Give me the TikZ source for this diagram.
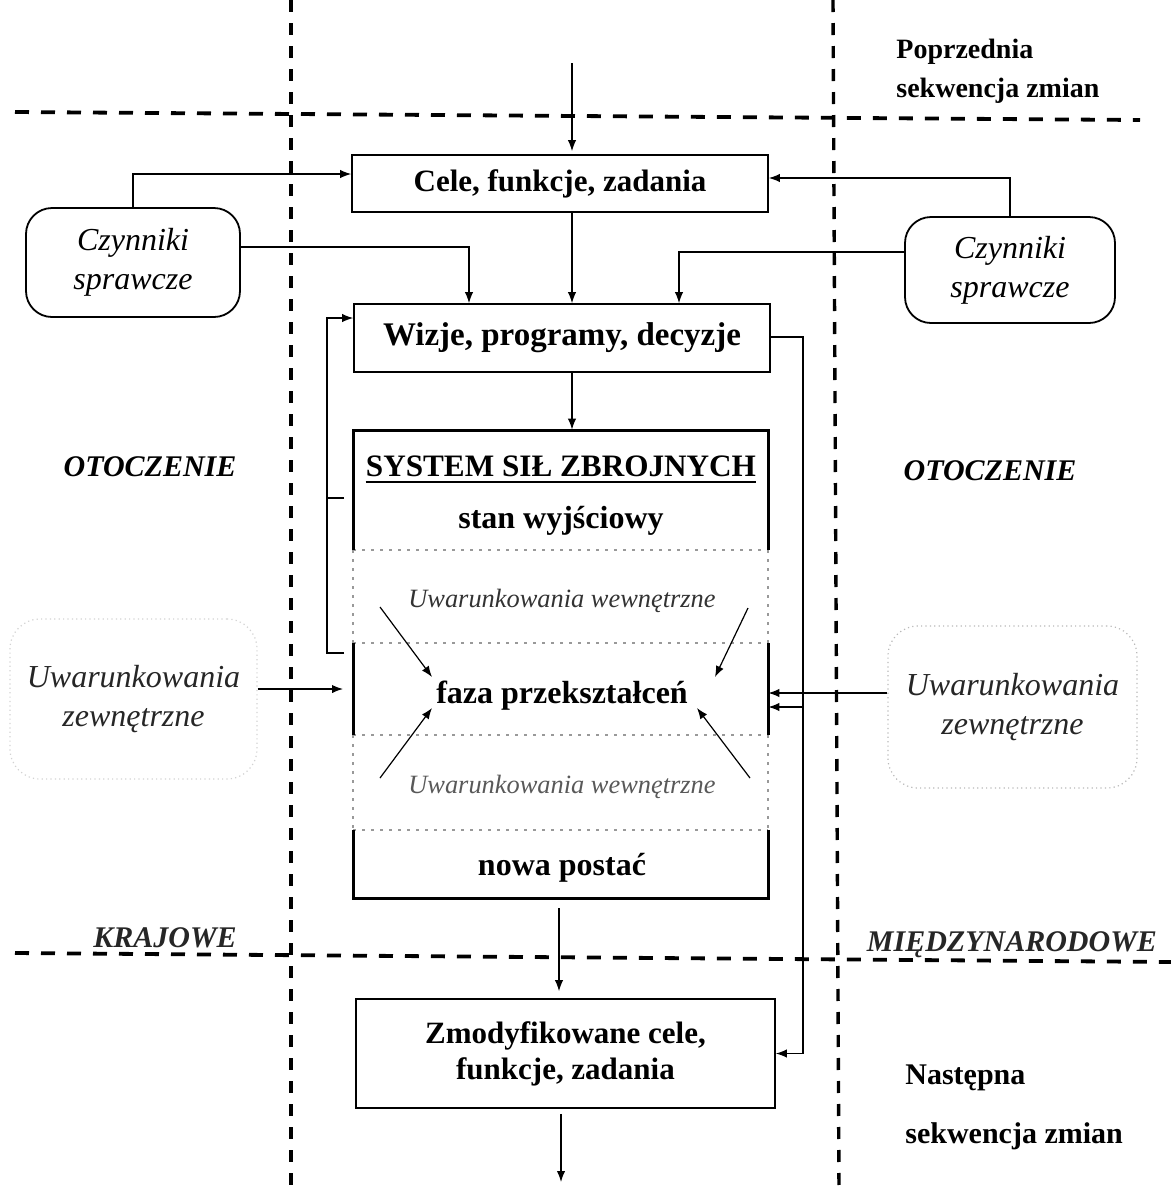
\documentclass[tikz,border=0pt]{standalone}
\usepackage{fontspec}
\setmainfont{Liberation Serif}
\usetikzlibrary{arrows.meta,calc}

\begin{document}
\begin{tikzpicture}[x=0.5pt,y=-0.5pt,
  arr/.style={-{Latex[length=5.5pt,width=4.2pt]}, line width=0.6pt},
  conn/.style={line width=0.6pt},
  vdash/.style={line width=1.7pt, dash pattern=on 6pt off 5.5pt},
  hdash/.style={line width=1.9pt, dash pattern=on 7pt off 6pt},
  box/.style={draw, line width=0.85pt, rectangle, align=center, inner sep=0pt,
    font=\fontsize{15.5}{18}\selectfont\bfseries},
  czbox/.style={draw, line width=0.9pt, rounded corners=13pt, align=center, inner sep=0pt,
    font=\fontsize{16}{19.5}\selectfont\itshape},
  uwbox/.style={draw=gray!55, line width=0.6pt, dash pattern=on 0.6pt off 1.6pt,
    rounded corners=15pt, align=center, inner sep=0pt,
    font=\fontsize{16}{19.5}\selectfont\itshape, text=black!85},
  sysline/.style={line width=1.5pt},
  inner/.style={draw=gray!80, line width=0.55pt, dash pattern=on 1.5pt off 3pt},
  btxt/.style={inner sep=0pt, anchor=base, font=\fontsize{16}{18}\selectfont\bfseries},
  wtxt/.style={inner sep=0pt, anchor=base, font=\fontsize{13.2}{16}\selectfont\itshape},
  side/.style={inner sep=0pt, anchor=base west, font=\fontsize{14}{17}\selectfont\bfseries},
  env/.style={inner sep=0pt, anchor=base, font=\fontsize{15}{18}\selectfont\bfseries\itshape},
  region/.style={inner sep=0pt, anchor=base, font=\fontsize{15}{18}\selectfont\bfseries\itshape, text=black!85}
]
\useasboundingbox (0,0) rectangle (1171,1190);

% dividing lines of the scheme
\draw[vdash] (291,0) -- (291,1190);
\draw[vdash] (833,0) -- (839,1190);
\draw[hdash] (15,112) -- (1140,120);
\draw[hdash] (15,953) -- (1171,962);

% corner captions
\node[side] (popA) at (896,58) {Poprzednia};
\node[side] (popB) at (896,97) {sekwencja zmian};
\node[side, font=\fontsize{15}{18}\selectfont\bfseries] (nasA) at (905,1084) {Następna};
\node[side, font=\fontsize{15}{18}\selectfont\bfseries] (nasB) at (905,1143) {sekwencja zmian};

% environment labels
\node[env] (otL) at (150,476) {OTOCZENIE};
\node[env] (otR) at (990,480) {OTOCZENIE};
\node[region] (kraj) at (165,947) {KRAJOWE};
\node[region] (mied) at (1012,951) {MIĘDZYNARODOWE};

% main blocks
\node[box, minimum width=208pt, minimum height=28.5pt] (cele) at (560,183.5) {Cele, funkcje, zadania};
\node[box, minimum width=208pt, minimum height=34pt, font=\fontsize{16.5}{19}\selectfont\bfseries] (wizje) at (562,338) {Wizje, programy, decyzje};
\node[box, minimum width=209.5pt, minimum height=54.5pt] (zmod) at (565.5,1053.5) {\rule{0pt}{8pt}Zmodyfikowane cele,\\ funkcje, zadania};

\node[czbox, minimum width=107pt, minimum height=54.5pt] (czL) at (133,262.5) {\rule{0pt}{9pt}Czynniki\\ sprawcze};
\node[czbox, minimum width=105pt, minimum height=53pt] (czR) at (1010,270) {\rule{0pt}{9pt}Czynniki\\ sprawcze};

\node[uwbox, draw=gray!35, minimum width=123.5pt, minimum height=80pt] (uwL) at (133.5,699) {Uwarunkowania\\ zewnętrzne};
\node[uwbox, minimum width=124.5pt, minimum height=81pt] (uwR) at (1012.5,707) {Uwarunkowania\\ zewnętrzne};

% system of the armed forces
\node[minimum width=207.5pt, minimum height=234pt, inner sep=0pt] (sys) at (560.5,664) {};
\draw[inner] (353,550) -- (768,550);
\draw[inner] (353,643) -- (768,643);
\draw[inner] (353,735) -- (768,735);
\draw[inner] (353,830) -- (768,830);
\draw[inner] (353,550) -- (353,643);
\draw[inner] (768,550) -- (768,643);
\draw[inner] (353,735) -- (353,830);
\draw[inner] (768,735) -- (768,830);
\draw[sysline] (353,550) -- (353,430) -- (768,430) -- (768,550);
\draw[sysline] (353,643) -- (353,735);
\draw[sysline] (768,643) -- (768,735);
\draw[sysline] (353,830) -- (353,898) -- (768,898) -- (768,830);

\node[btxt, font=\fontsize{15.6}{18}\selectfont\bfseries] (systxt) at (561,476) {SYSTEM SIŁ ZBROJNYCH};
\draw[line width=1.2pt] ([yshift=-3pt]systxt.base west) -- ([yshift=-3pt]systxt.base east);
\node[btxt] (stan) at (561,528) {stan wyjściowy};
\node[wtxt, text=black!80] (wewA) at (562,607) {Uwarunkowania wewnętrzne};
\node[btxt] (faza) at (562,703) {faza przekształceń};
\node[wtxt, text=black!65] (wewB) at (562,793) {Uwarunkowania wewnętrzne};
\node[btxt] (nowa) at (562,875) {nowa postać};

% main flow
\coordinate (src) at (572,63);
\draw[arr, shorten >=1.5pt] (src) -- (src |- cele.north);
\draw[arr] (cele.south -| src) -- (wizje.north -| src);
\draw[arr] (wizje.south -| src) -- (src |- sys.north);
\coordinate (dn) at (559,908);
\draw[arr, shorten <=5pt, shorten >=3.5pt] (sys.south -| dn) -- (zmod.north -| dn);
\coordinate (out) at (561,1182);
\draw[arr, shorten <=2.5pt] (zmod.south -| out) -- (out);

% driving factors
\coordinate (jL) at (131,174);
\draw[arr] (czL.north) |- (cele.west |- jL);
\coordinate (jR) at (1013,178);
\draw[arr] (czR.north) |- (cele.east |- jR);
\coordinate (kL) at (469,247);
\draw[arr] (czL.east |- kL) -| (kL |- wizje.north);
\coordinate (kR) at (679,252);
\draw[arr] (czR.west |- kR) -| (kR |- wizje.north);

% loop from decisions to modified goals
\coordinate (loop) at (803,337);
\draw[arr] (wizje.east |- loop) -| (zmod.east -| loop) -- (zmod.east);
\coordinate (br) at (803,707);
\draw[arr] (br) -- (br -| sys.east);

% feedback to decisions
\coordinate (fb1) at (344,653);
\coordinate (fb2) at (344,498);
\coordinate (fbx) at (327,318);
\draw[arr] (fb1) -| (fbx) -- (wizje.west |- fbx);
\draw[conn] (fb2) -- (fb2 -| fbx);

% external conditions
\coordinate (eL) at (343,689);
\draw[arr] (uwL.east |- eL) -- (eL);
\coordinate (eR) at (888,693);
\draw[arr] (uwR.west |- eR) -- (sys.east |- eR);

% internal conditions
\coordinate (a1) at (380,607); \coordinate (a1e) at (432,677);
\coordinate (a2) at (748,608); \coordinate (a2e) at (715,677);
\coordinate (a3) at (380,778); \coordinate (a3e) at (432,708);
\coordinate (a4) at (750,778); \coordinate (a4e) at (697,708);
\draw[arr] (a1) -- (a1e);
\draw[arr] (a2) -- (a2e);
\draw[arr] (a3) -- (a3e);
\draw[arr] (a4) -- (a4e);
\end{tikzpicture}
\end{document}
